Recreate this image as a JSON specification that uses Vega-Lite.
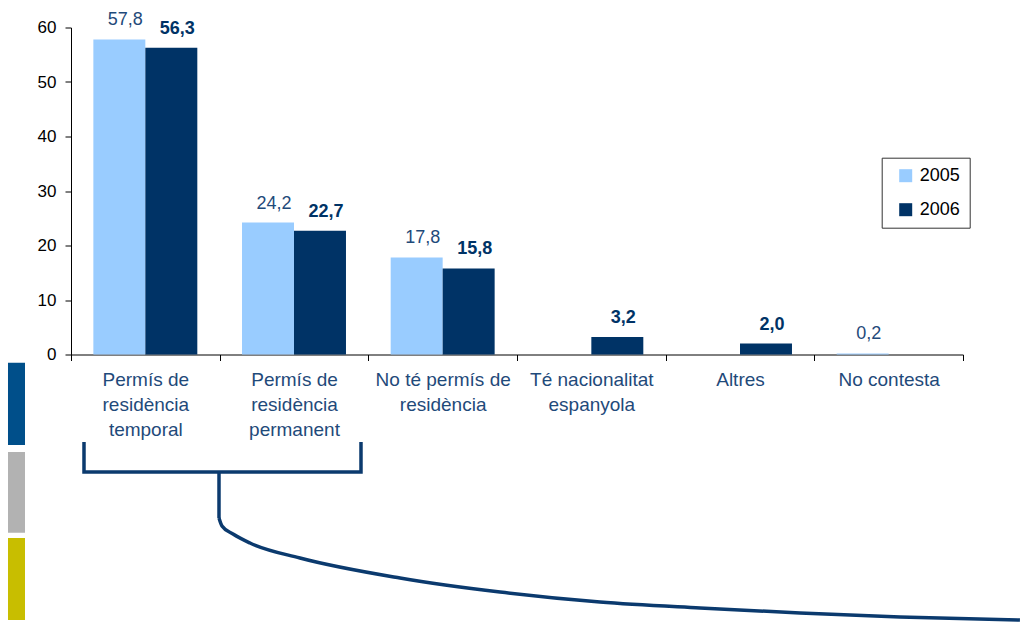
{
  "$schema": "https://vega.github.io/schema/vega-lite/v6.json",
  "autosize": {"type": "none"},
  "width": 892,
  "height": 327,
  "padding": {"left": 71, "top": 27.5, "right": 60, "bottom": 267.5},
  "background": "white",
  "config": {
    "view": {"stroke": null},
    "font": "Liberation Sans",
    "locale": {"number": {"decimal": ",", "thousands": ".", "grouping": [3], "currency": ["", " €"]}}
  },
  "datasets": {
    "bars": [
      {"cat": "Permís de|residència|temporal", "year": "2005", "value": 57.8},
      {"cat": "Permís de|residència|temporal", "year": "2006", "value": 56.3},
      {"cat": "Permís de|residència|permanent", "year": "2005", "value": 24.2},
      {"cat": "Permís de|residència|permanent", "year": "2006", "value": 22.7},
      {"cat": "No té permís de|residència", "year": "2005", "value": 17.8},
      {"cat": "No té permís de|residència", "year": "2006", "value": 15.8},
      {"cat": "Té nacionalitat|espanyola", "year": "2006", "value": 3.2},
      {"cat": "Altres", "year": "2006", "value": 2.0},
      {"cat": "No contesta", "year": "2005", "value": 0.2}
    ],
    "blocks": [
      {"seg": "a", "x": -0.4238, "x2": -0.3094, "y": -1.51, "y2": -16.61},
      {"seg": "b", "x": -0.4238, "x2": -0.3094, "y": -17.89, "y2": -32.72},
      {"seg": "c", "x": -0.4238, "x2": -0.3094, "y": -33.67, "y2": -48.72}
    ],
    "bracket": [
      {"path": "b1", "ord": 1, "x": 0.0874, "y": -16.06},
      {"path": "b1", "ord": 2, "x": 0.0874, "y": -21.56},
      {"path": "b1", "ord": 3, "x": 1.9506, "y": -21.56},
      {"path": "b1", "ord": 4, "x": 1.9506, "y": -16.06},
      {"path": "b2", "ord": 1, "x": 0.9955, "y": -21.56},
      {"path": "b2", "ord": 2, "x": 0.9955, "y": -30.0}
    ],
    "curve": [
      {"x": 0.9955, "y": -30.0},
      {"x": 1.0157, "y": -31.47},
      {"x": 1.0897, "y": -32.94},
      {"x": 1.204, "y": -34.59},
      {"x": 1.54, "y": -37.34},
      {"x": 2.213, "y": -41.01},
      {"x": 2.886, "y": -43.58},
      {"x": 3.558, "y": -45.41},
      {"x": 4.231, "y": -46.51},
      {"x": 4.904, "y": -47.43},
      {"x": 5.576, "y": -48.17},
      {"x": 6.383, "y": -48.72}
    ]
  },
  "resolve": {"scale": {"x": "independent", "y": "independent", "color": "independent"}, "axis": {"x": "independent", "y": "independent"}},
  "layer": [
    {
      "data": {"name": "bars"},
      "encoding": {
        "x": {
          "field": "cat", "type": "nominal", "sort": null,
          "scale": {"paddingInner": 0, "paddingOuter": 0},
          "axis": {
            "title": null, "labelAngle": 0, "labelExpr": "isValid(datum.value) ? split(datum.value, '|') : ''",
            "tickBand": "extent", "tickSize": 6, "tickColor": "#000", "domainColor": "#000",
            "labelFontSize": 19, "labelColor": "#1F4A7A", "labelLineHeight": 25,
            "labelPadding": 10, "labelFont": "Liberation Sans"
          }
        },
        "xOffset": {"field": "year", "type": "nominal", "scale": {"domain": ["2005", "2006"], "paddingInner": 0, "paddingOuter": 0.43}},
        "y": {
          "field": "value", "type": "quantitative",
          "scale": {"domain": [0, 60], "nice": false},
          "axis": {
            "title": null, "values": [0, 10, 20, 30, 40, 50, 60], "grid": false,
            "tickSize": 6, "tickColor": "#000", "domainColor": "#000",
            "labelFontSize": 17, "labelColor": "#000", "labelPadding": 9, "labelFont": "Liberation Sans"
          }
        }
      },
      "layer": [
        {
          "mark": {"type": "bar"},
          "encoding": {
            "color": {
              "field": "year", "type": "nominal",
              "scale": {"domain": ["2005", "2006"], "range": ["#99CCFF", "#003366"]},
              "legend": {
                "title": null, "orient": "none", "legendX": 810.7, "legendY": 130.2,
                "symbolType": "square", "symbolSize": 169, "symbolStrokeWidth": 0,
                "labelFontSize": 18, "labelColor": "#000", "labelFont": "Liberation Sans",
                "labelOffset": 5, "rowPadding": 16, "padding": 9, "symbolOffset": 6,
                "strokeColor": "#333", "fillColor": "white"
              }
            }
          }
        },
        {
          "transform": [{"filter": "datum.year == '2005'"}],
          "mark": {"type": "text", "baseline": "alphabetic", "dx": 6, "dy": -14, "fontSize": 18, "color": "#1F4A7A", "font": "Liberation Sans"},
          "encoding": {"text": {"field": "value", "type": "quantitative", "format": ".1f"}}
        },
        {
          "transform": [{"filter": "datum.year == '2006'"}],
          "mark": {"type": "text", "baseline": "alphabetic", "dx": 6, "dy": -14, "fontSize": 18, "fontWeight": "bold", "color": "#003366", "font": "Liberation Sans"},
          "encoding": {"text": {"field": "value", "type": "quantitative", "format": ".1f"}}
        }
      ]
    },
    {
      "layer": [
        {
          "data": {"name": "blocks"},
          "mark": {"type": "rect"},
          "encoding": {
            "x": {"field": "x", "type": "quantitative", "scale": {"domain": [0, 6], "nice": false, "zero": false}, "axis": null},
            "x2": {"field": "x2"},
            "y": {"field": "y", "type": "quantitative", "scale": {"domain": [0, 60], "nice": false, "zero": false}, "axis": null},
            "y2": {"field": "y2"},
            "color": {"field": "seg", "type": "nominal", "scale": {"domain": ["a", "b", "c"], "range": ["#004F8A", "#B2B2B2", "#C8BE00"]}, "legend": null}
          }
        },
        {
          "data": {"name": "bracket"},
          "mark": {"type": "line", "color": "#0B3A6E", "strokeWidth": 3.5, "strokeJoin": "miter", "strokeCap": "butt"},
          "encoding": {
            "x": {"field": "x", "type": "quantitative", "axis": null},
            "y": {"field": "y", "type": "quantitative", "axis": null},
            "detail": {"field": "path", "type": "nominal"},
            "order": {"field": "ord", "type": "quantitative"}
          }
        },
        {
          "data": {"name": "curve"},
          "mark": {"type": "line", "color": "#0B3A6E", "strokeWidth": 3.5, "interpolate": "monotone"},
          "encoding": {
            "x": {"field": "x", "type": "quantitative", "axis": null},
            "y": {"field": "y", "type": "quantitative", "axis": null}
          }
        }
      ]
    }
  ]
}
